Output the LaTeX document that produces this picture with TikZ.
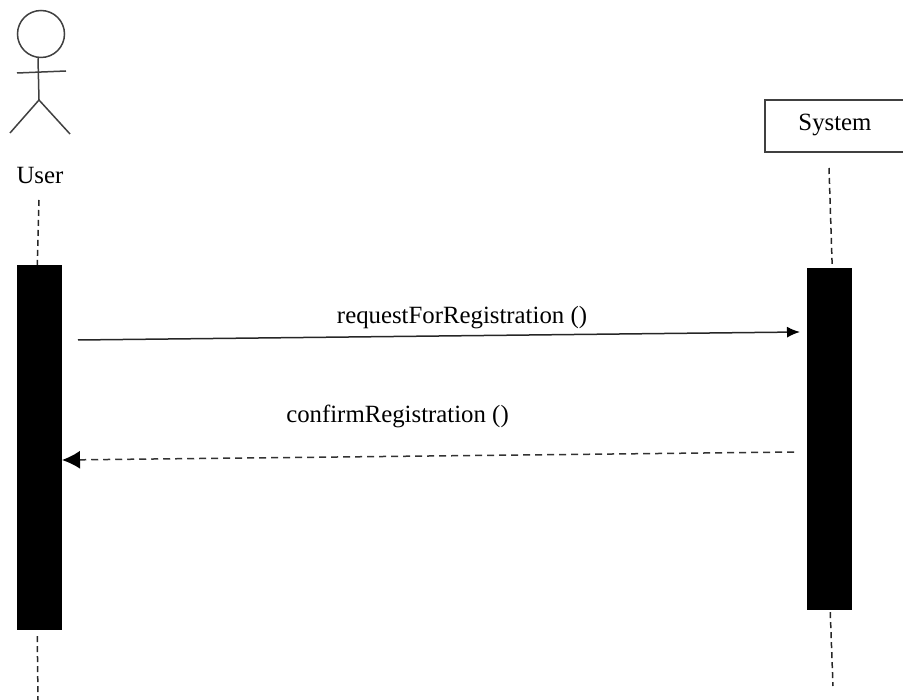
\documentclass[tikz,border=0pt]{standalone}
\usepackage{fontspec}
\setmainfont{Liberation Serif}
\usetikzlibrary{arrows.meta}
\begin{document}
\begin{tikzpicture}[
  x=1pt, y=-1pt,
  line_style/.style={draw=black!75, line width=1.5pt},
  lifeline_style/.style={draw=black!85, line width=1.5pt, dash pattern=on 6pt off 4pt},
  bar_style/.style={rectangle, fill=black, inner sep=0pt, minimum width=45.5pt},
  label_style/.style={inner sep=0pt, font=\fontsize{24.8}{26}\selectfont},
  call_style/.style={draw=black!85, line width=1.5pt, -{Latex[black,length=13pt,width=11pt]}},
  reply_style/.style={draw=black!80, line width=1.5pt, dash pattern=on 7pt off 5pt, {Latex[black,length=18pt,width=18pt]}-}
]
\useasboundingbox (0,0) rectangle (903,700);

% Acteur
\node[circle, line_style, inner sep=0pt, minimum size=47pt] (head) at (41,34) {};
\coordinate (hip) at (39,100);
\coordinate (hand_l) at (17,73);
\coordinate (hand_r) at (66,71);
\coordinate (foot_l) at (10,133);
\coordinate (foot_r) at (70,134);
\draw[line_style] (head.south) ++(-3,0) -- (hip);
\draw[line_style] (hand_l) -- (hand_r);
\draw[line_style] (foot_l) -- (hip) -- (foot_r);
\node[label_style] (user) at (40,176) {User};

% Boite du systeme
\node[rectangle, line_style, fill=white, inner sep=0pt, minimum width=140pt, minimum height=52pt] (system) at (835,126) {};
\node[label_style] (system_name) at (835,125) {System};

% Barres d'activation
\node[bar_style, minimum height=365pt] (user_bar) at (39.25,447.5) {};
\node[bar_style, minimum height=342pt] (system_bar) at (829.25,439) {};

% Lignes de vie
\coordinate (user_top) at (39,200);
\coordinate (user_end) at (38,700);
\coordinate (system_top) at (829,168);
\coordinate (system_end) at (833,686);
\draw[lifeline_style] (user_top) -- ([xshift=-2pt]user_bar.north);
\draw[lifeline_style] (user_bar.south) ++(-2,6) -- (user_end);
\draw[lifeline_style] (system_top) -- ([xshift=3pt]system_bar.north);
\draw[lifeline_style] (system_bar.south) ++(1,2) -- (system_end);

% Messages
\coordinate (call_start) at (78,340);
\coordinate (call_end) at (800,332);
\coordinate (reply_start) at (796,452);
\coordinate (reply_end) at (62,460);
\draw[call_style] (call_start) -- (call_end);
\draw[reply_style] (reply_end) -- (reply_start);
\node[label_style] (request) at (462,318) {requestForRegistration ()};
\node[label_style] (confirm) at (397.5,416) {confirmRegistration ()};
\end{tikzpicture}
\end{document}
